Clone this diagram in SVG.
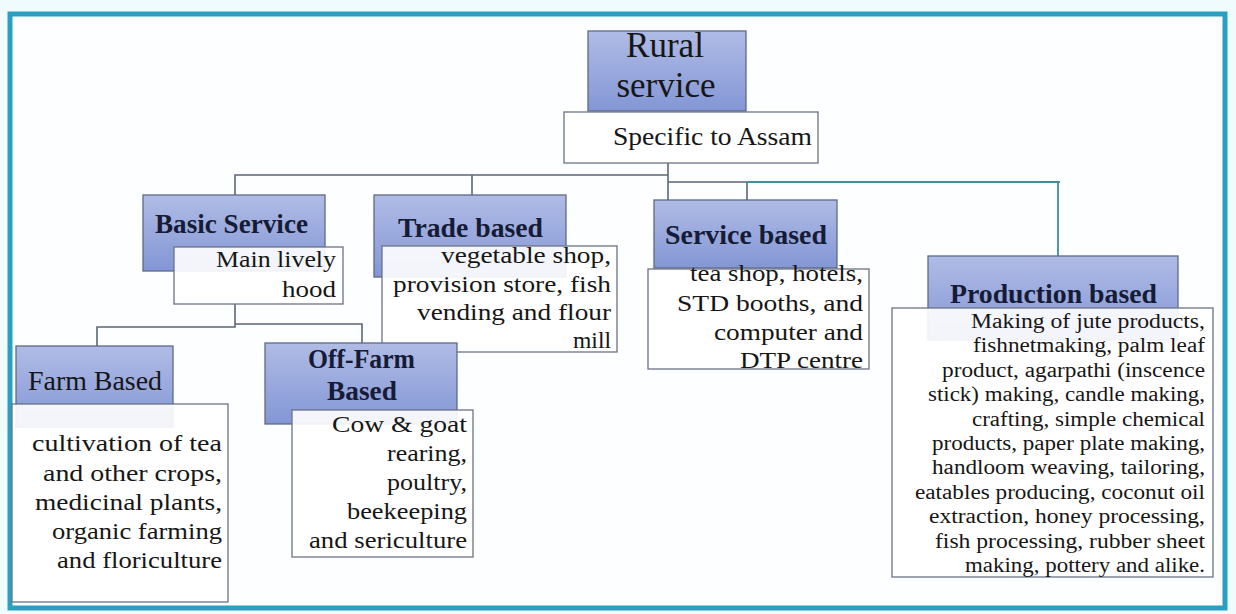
<svg xmlns="http://www.w3.org/2000/svg" width="1236" height="614" viewBox="0 0 1236 614">
<defs>
<linearGradient id="hg" x1="0" y1="0" x2="0" y2="1">
<stop offset="0" stop-color="#b0bce6"/>
<stop offset="1" stop-color="#8396d5"/>
</linearGradient>
<style>
.hdr{fill:url(#hg);stroke:#5e6a86;stroke-width:1.3}
.box{fill:#ffffff;fill-opacity:0.9;stroke:#6a7384;stroke-width:1.3}
.t{fill:#161616}
.h{fill:#161b36;font-weight:bold;font-size:27px}
.c{fill:none;stroke:#5b6678;stroke-width:1.6}
.ct{fill:none;stroke:#3f8e9e;stroke-width:1.8}
</style>
</defs>
<rect x="0" y="0" width="1236" height="614" fill="#effbfd"/>
<rect x="10" y="14" width="1215" height="594" fill="#fdfeff" stroke="#2a9fc2" stroke-width="5"/>

<g id="connectors">
<path class="c" d="M668,163 V200"/>
<path class="c" d="M668,175 H235 V195"/>
<path class="c" d="M472,175 V195"/>
<path class="c" d="M668,182 H747 V200"/>
<path class="ct" d="M747,182 H1058 V256"/>
<path class="ct" d="M1040,182 H1060" stroke-width="1"/>
<path class="c" d="M235,304 V327 H97 V346"/>
<path class="c" d="M235,324 H362 V343"/>
</g>

<g font-family="Liberation Serif, Times New Roman, serif">
<g id="rural">
<rect class="hdr" x="588" y="31" width="158" height="80"/>
<text class="t" x="665" y="57" font-size="35" text-anchor="middle">Rural</text>
<text class="t" x="666" y="97" font-size="35" text-anchor="middle">service</text>
</g>
<g id="specific">
<rect class="box" x="564" y="112" width="254" height="51"/>
<text class="t" x="613" y="145" font-size="26" textLength="199" lengthAdjust="spacingAndGlyphs">Specific  to Assam</text>
</g>

<g id="basic">
<rect class="hdr" x="143" y="195" width="182" height="76"/>
<text class="h" x="155" y="233" textLength="153" lengthAdjust="spacingAndGlyphs">Basic Service</text>
<rect class="box" x="174" y="247" width="169" height="57"/>
<text class="t" x="216" y="267" font-size="23" textLength="120" lengthAdjust="spacingAndGlyphs">Main  lively</text>
<text class="t" x="282" y="297" font-size="23" textLength="54" lengthAdjust="spacingAndGlyphs">hood</text>
</g>

<g id="trade">
<rect class="hdr" x="374" y="195" width="192" height="82"/>
<text class="h" x="398" y="237" textLength="145" lengthAdjust="spacingAndGlyphs">Trade based</text>
<rect class="box" x="382" y="246" width="235" height="106"/>
<text class="t" font-size="23">
<tspan x="441" y="263" textLength="170" lengthAdjust="spacingAndGlyphs">vegetable  shop,</tspan>
<tspan x="393" y="292" textLength="218" lengthAdjust="spacingAndGlyphs">provision  store, fish</tspan>
<tspan x="417" y="320" textLength="194" lengthAdjust="spacingAndGlyphs">vending  and flour</tspan>
<tspan x="573" y="348" textLength="38" lengthAdjust="spacingAndGlyphs">mill</tspan>
</text>
</g>

<g id="service">
<rect class="hdr" x="654" y="200" width="183" height="68"/>
<text class="h" x="665" y="244" textLength="162" lengthAdjust="spacingAndGlyphs">Service based</text>
<rect class="box" x="648" y="269" width="221" height="100"/>
<text class="t" font-size="23">
<tspan x="690" y="281" textLength="173" lengthAdjust="spacingAndGlyphs">tea shop, hotels,</tspan>
<tspan x="677" y="311" textLength="186" lengthAdjust="spacingAndGlyphs">STD booths,  and</tspan>
<tspan x="714" y="340" textLength="149" lengthAdjust="spacingAndGlyphs">computer  and</tspan>
<tspan x="740" y="368" textLength="123" lengthAdjust="spacingAndGlyphs">DTP centre</tspan>
</text>
</g>

<g id="production">
<rect class="hdr" x="928" y="256" width="250" height="84"/>
<text class="h" x="950" y="303" textLength="207" lengthAdjust="spacingAndGlyphs">Production  based</text>
<rect class="box" x="892" y="308" width="321" height="269"/>
<text class="t" font-size="20">
<tspan x="971" y="328" textLength="234" lengthAdjust="spacingAndGlyphs">Making of jute products,</tspan>
<tspan x="973" y="352.4" textLength="232" lengthAdjust="spacingAndGlyphs">fishnetmaking, palm leaf</tspan>
<tspan x="942" y="376.8" textLength="263" lengthAdjust="spacingAndGlyphs">product, agarpathi (inscence</tspan>
<tspan x="928" y="401.2" textLength="277" lengthAdjust="spacingAndGlyphs">stick) making,  candle making,</tspan>
<tspan x="972" y="425.6" textLength="233" lengthAdjust="spacingAndGlyphs">crafting, simple  chemical</tspan>
<tspan x="932" y="450" textLength="273" lengthAdjust="spacingAndGlyphs">products, paper plate making,</tspan>
<tspan x="932" y="474.4" textLength="273" lengthAdjust="spacingAndGlyphs">handloom  weaving, tailoring,</tspan>
<tspan x="915" y="498.8" textLength="290" lengthAdjust="spacingAndGlyphs">eatables producing, coconut oil</tspan>
<tspan x="929" y="523.2" textLength="276" lengthAdjust="spacingAndGlyphs">extraction,  honey processing,</tspan>
<tspan x="935" y="547.6" textLength="270" lengthAdjust="spacingAndGlyphs">fish processing, rubber sheet</tspan>
<tspan x="965" y="572" textLength="240" lengthAdjust="spacingAndGlyphs">making,  pottery and alike.</tspan>
</text>
</g>

<g id="farm">
<rect class="hdr" x="16" y="346" width="157" height="81"/>
<text class="t" x="28" y="390" font-size="27" textLength="134" lengthAdjust="spacingAndGlyphs">Farm Based</text>
<rect class="box" x="12" y="404" width="216" height="198"/>
<text class="t" font-size="23">
<tspan x="32" y="451" textLength="190" lengthAdjust="spacingAndGlyphs">cultivation  of tea</tspan>
<tspan x="43" y="481" textLength="179" lengthAdjust="spacingAndGlyphs">and other  crops,</tspan>
<tspan x="35" y="510" textLength="187" lengthAdjust="spacingAndGlyphs">medicinal  plants,</tspan>
<tspan x="52" y="539" textLength="170" lengthAdjust="spacingAndGlyphs">organic  farming</tspan>
<tspan x="57" y="568" textLength="165" lengthAdjust="spacingAndGlyphs">and floriculture</tspan>
</text>
</g>

<g id="offfarm">
<rect class="hdr" x="265" y="343" width="192" height="81"/>
<text class="h" x="308" y="368" font-size="25" textLength="107" lengthAdjust="spacingAndGlyphs">Off-Farm</text>
<text class="h" x="327" y="400" font-size="25" textLength="70" lengthAdjust="spacingAndGlyphs">Based</text>
<rect class="box" x="292" y="410" width="181" height="147"/>
<text class="t" font-size="23">
<tspan x="332" y="432" textLength="135" lengthAdjust="spacingAndGlyphs">Cow &amp; goat</tspan>
<tspan x="387" y="461" textLength="80" lengthAdjust="spacingAndGlyphs">rearing,</tspan>
<tspan x="387" y="490" textLength="80" lengthAdjust="spacingAndGlyphs">poultry,</tspan>
<tspan x="347" y="519" textLength="120" lengthAdjust="spacingAndGlyphs">beekeeping</tspan>
<tspan x="309" y="548" textLength="158" lengthAdjust="spacingAndGlyphs">and sericulture</tspan>
</text>
</g>
</g>
</svg>
